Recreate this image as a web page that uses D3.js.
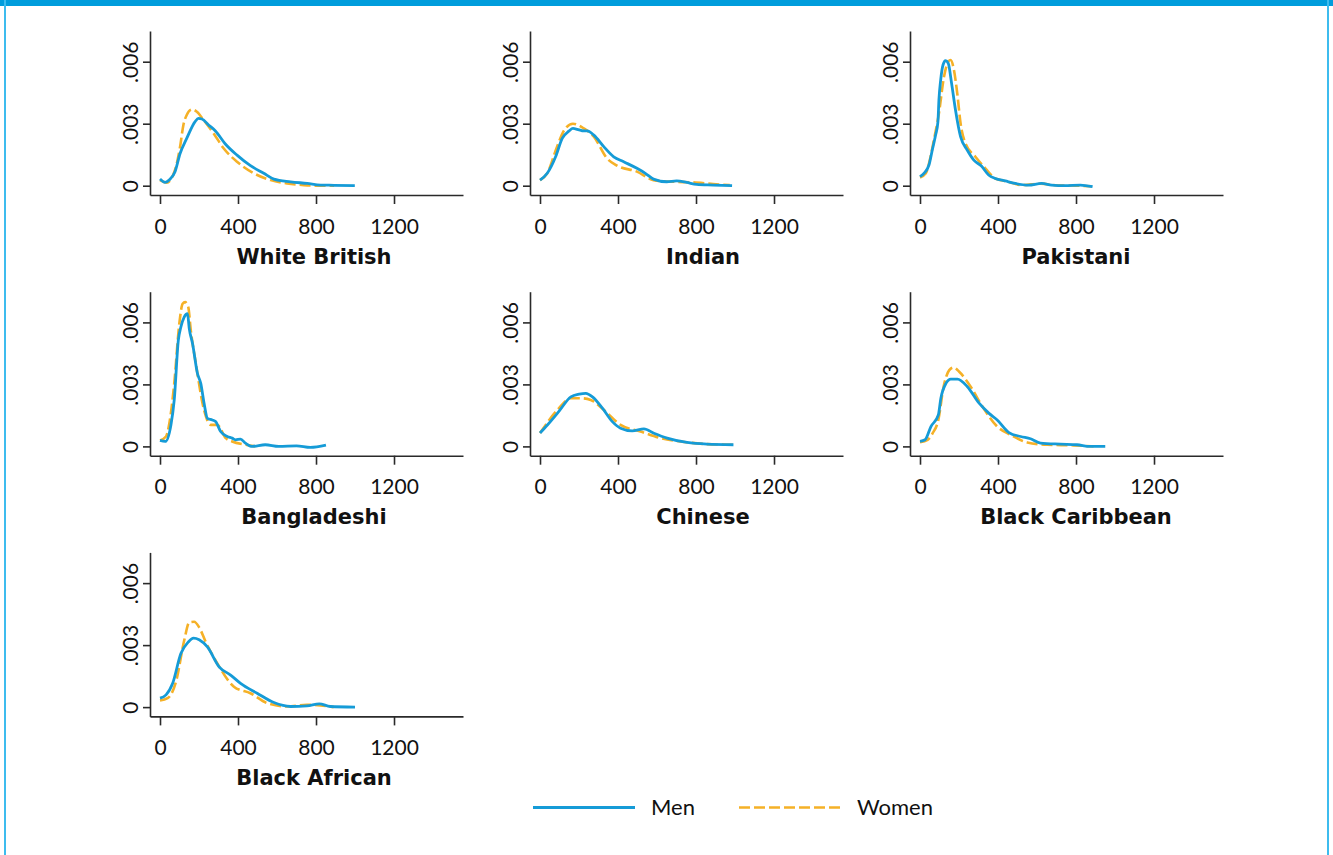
<!DOCTYPE html>
<html>
<head>
<meta charset="utf-8">
<script src="https://cdn.jsdelivr.net/npm/d3@7"></script>
<style>
  html, body { margin: 0; padding: 0; background: #fff; }
  svg { display: block; }
</style>
</head>
<body>
<svg id="chart" width="1333" height="855"></svg>
<script>
// ---------- data (density of weekly pay) ----------
const groups = ["White British", "Indian", "Pakistani", "Bangladeshi", "Chinese", "Black Caribbean", "Black African"];
const seriesNames = ["Men", "Women"];
const xTicks = [0, 400, 800, 1200];
const xTickLabels = ["0", "400", "800", "1200"];
const yTicks = [0, 0.003, 0.006];
const yTickLabels = ["0", ".003", ".006"];

const wbMen = [[0,.00032],[26,.00016],[50,.0003],[77,.00068],[103,.00156],[137,.00229],[180,.0031],[197,.00326],[215,.00323],[249,.00294],[283,.00266],[335,.00202],[395,.00148],[464,.00097],[532,.0006],[584,.00032],[670,.00019],[755,.00011],[824,.00003],[893,.00002],[999,0]];
const wbWomen = [[0,.00027],[34,.00015],[77,.00076],[103,.00189],[120,.00294],[137,.00342],[163,.00369],[189,.00358],[223,.00318],[275,.00253],[326,.00181],[395,.00116],[481,.0006],[567,.00027],[652,.00011],[738,.00003],[824,0],[893,0]];

const inMen = [[0,.00027],[37,.0006],[80,.0014],[114,.00229],[149,.00265],[169,.00277],[191,.00273],[216,.00266],[242,.00265],[276,.00245],[327,.00189],[378,.0014],[429,.00116],[497,.00084],[540,.0006],[582,.00032],[650,.00019],[701,.00023],[752,.00016],[803,.00006],[888,.00003],[985,0]];
const inWomen = [[0,.00027],[37,.0006],[88,.0019],[125,.0027],[169,.003],[225,.00277],[276,.00237],[344,.00132],[395,.00097],[497,.00068],[582,.00027],[684,.00019],[786,.00016],[888,.00008],[973,.00003]];

const pkMen = [[0,.00044],[20,.0006],[46,.001],[63,.00173],[80,.00245],[92,.0031],[97,.00414],[106,.00511],[118,.00584],[131,.00605],[145,.00592],[162,.00495],[182,.00366],[208,.00237],[242,.00173],[276,.00124],[315,.00095],[352,.00052],[386,.00035],[437,.00023],[488,.00011],[556,.00003],[624,.00011],[675,.00003],[743,0],[822,.00003],[885,-.00005]];
const pkWomen = [[0,.0004],[30,.0006],[54,.0014],[71,.0022],[97,.0035],[123,.00527],[145,.006],[157,.00608],[174,.0056],[191,.00447],[208,.00302],[233,.00205],[284,.0014],[335,.00084],[386,.00035],[450,.0002],[522,.00003],[620,.0001],[700,.00002],[800,0],[880,-.00003]];

const bdMen = [[0,.00029],[27,.00024],[56,.00104],[73,.00225],[94,.00514],[107,.00578],[124,.00626],[141,.00642],[150,.0057],[167,.00497],[192,.00353],[209,.00305],[226,.00209],[243,.00136],[268,.00128],[285,.0012],[311,.00072],[345,.00048],[370,.0004],[387,.00032],[413,.00035],[438,.00016],[472,0],[540,.00008],[609,0],[700,.00003],[771,-.00005],[851,.00006]];
const bdWomen = [[0,.00029],[31,.00048],[48,.00112],[73,.00305],[99,.00594],[116,.0069],[129,.00698],[145,.00674],[158,.00561],[184,.004],[226,.00176],[260,.00104],[294,.00104],[337,.0004],[370,.00024],[438,.00008],[489,0]];

const cnMen = [[0,.00065],[39,.00105],[99,.00172],[158,.0024],[201,.00253],[235,.00257],[269,.0024],[320,.00185],[371,.0012],[413,.00088],[473,.00075],[533,.00085],[584,.00064],[652,.0004],[754,.00019],[856,.00011],[992,.00008]];
const cnWomen = [[0,.00065],[90,.00177],[158,.00233],[209,.00233],[260,.00225],[328,.00176],[413,.00104],[516,.00072],[618,.0004],[720,.00024],[856,.00011],[992,.00008]];

const bcMen = [[0,.00024],[26,.00032],[56,.00096],[94,.00152],[107,.00233],[133,.00305],[158,.00326],[192,.00326],[243,.00289],[303,.00209],[354,.0016],[396,.00128],[456,.00067],[516,.00048],[567,.00037],[618,.00016],[720,.00011],[805,.00008],[873,0],[950,0]];
const bcWomen = [[0,.0002],[39,.00032],[65,.00064],[94,.00128],[121,.00289],[150,.00369],[172,.00382],[201,.00361],[260,.00289],[320,.00193],[396,.00096],[464,.00056],[550,.00019],[652,.00008],[788,.00005],[890,0]];

const baMen = [[0,.00043],[31,.00059],[65,.00115],[107,.00259],[145,.00315],[172,.00334],[201,.00326],[243,.00291],[303,.00195],[362,.00155],[413,.00115],[498,.00067],[584,.00022],[669,.00003],[754,.00006],[817,.00016],[873,.00003],[1000,0]];
const baWomen = [[0,.00032],[39,.00043],[82,.00123],[124,.00322],[150,.0041],[175,.00413],[201,.00386],[235,.00314],[294,.00211],[379,.00099],[464,.00067],[550,.00019],[652,.00003],[754,.00011],[822,.00008],[890,0]];

const menSeries = [wbMen, inMen, pkMen, bdMen, cnMen, bcMen, baMen];
const womenSeries = [wbWomen, inWomen, pkWomen, bdWomen, cnWomen, bcWomen, baWomen];

// ---------- styling / layout ----------
const BLUE = "#159bd7";
const ORANGE = "#f5b127";
const AXIS = "#2a2a2a";
const svg = d3.select("#chart");

// frame
svg.append("rect").attr("x", 0).attr("y", 0).attr("width", 1333).attr("height", 6).attr("fill", "#009ddc");
svg.append("rect").attr("x", 4).attr("y", 0).attr("width", 2).attr("height", 855).attr("fill", "#3dbcee");
svg.append("rect").attr("x", 1327).attr("y", 0).attr("width", 2).attr("height", 855).attr("fill", "#3dbcee");

const panelW = 313, panelH = 164;
const colStep = 380, rowStep = 260.7;
const left0 = 150, top0 = 31;
const titleCenters = [314, 703, 1076];

const x = d3.scaleLinear().domain([-51.3, 1553.8]).range([0, panelW]);
const y = d3.scaleLinear().domain([-0.00045, 0.007486]).range([panelH, 0]);

const line = d3.line().x(d => x(d[0])).y(d => y(d[1])).curve(d3.curveMonotoneX);

groups.forEach((name, i) => {
  const c = i % 3, r = Math.floor(i / 3);
  const g = svg.append("g").attr("transform", `translate(${left0 + c * colStep},${top0 + r * rowStep})`);

  // x axis
  const xa = g.append("g").attr("transform", `translate(0,${panelH})`)
    .call(d3.axisBottom(x).tickValues(xTicks).tickFormat((d, k) => xTickLabels[k]).tickSize(9).tickSizeOuter(0).tickPadding(5));
  // y axis
  const ya = g.append("g")
    .call(d3.axisLeft(y).tickValues(yTicks).tickFormat((d, k) => yTickLabels[k]).tickSize(7).tickSizeOuter(0));

  [xa, ya].forEach(a => {
    a.select(".domain").attr("stroke", AXIS).attr("stroke-width", 1.6);
    a.selectAll(".tick line").attr("stroke", AXIS).attr("stroke-width", 1.6);
    a.selectAll("text").attr("fill", "#111").style("font-family", "Lato, 'Open Sans', sans-serif").style("font-size", "21px");
  });
  xa.selectAll("text").attr("dy", null).attr("y", 38.5 - 0);
  ya.selectAll(".tick text")
    .attr("x", null).attr("dy", null)
    .attr("transform", "translate(-12,0) rotate(-90)")
    .attr("text-anchor", "middle").attr("y", 0);

  // lines: women first, men on top
  g.append("path").datum(womenSeries[i]).attr("d", line)
    .attr("fill", "none").attr("stroke", ORANGE).attr("stroke-width", 2.6)
    .attr("stroke-dasharray", "11,4");
  g.append("path").datum(menSeries[i]).attr("d", line)
    .attr("fill", "none").attr("stroke", BLUE).attr("stroke-width", 2.8)
    .attr("stroke-linejoin", "round");

  // title
  svg.append("text")
    .attr("x", titleCenters[c]).attr("y", 263.5 + r * rowStep)
    .attr("text-anchor", "middle")
    .style("font-family", "'DejaVu Sans', sans-serif").style("font-weight", "bold").style("font-size", "21px")
    .attr("fill", "#111").text(name);
});

// legend
const lg = svg.append("g");
const legendItems = [
  { name: seriesNames[0], color: BLUE, dash: null, x1: 533, x2: 635, tx: 651 },
  { name: seriesNames[1], color: ORANGE, dash: "11,4", x1: 739, x2: 842, tx: 857 }
];
legendItems.forEach(it => {
  lg.append("line").attr("x1", it.x1).attr("x2", it.x2).attr("y1", 807.5).attr("y2", 807.5)
    .attr("stroke", it.color).attr("stroke-width", it.dash ? 2.6 : 2.8).attr("stroke-dasharray", it.dash);
  lg.append("text").attr("x", it.tx).attr("y", 815)
    .style("font-family", "Lato, 'Open Sans', sans-serif").style("font-size", "22px").attr("fill", "#111").text(it.name);
});
</script>
</body>
</html>
